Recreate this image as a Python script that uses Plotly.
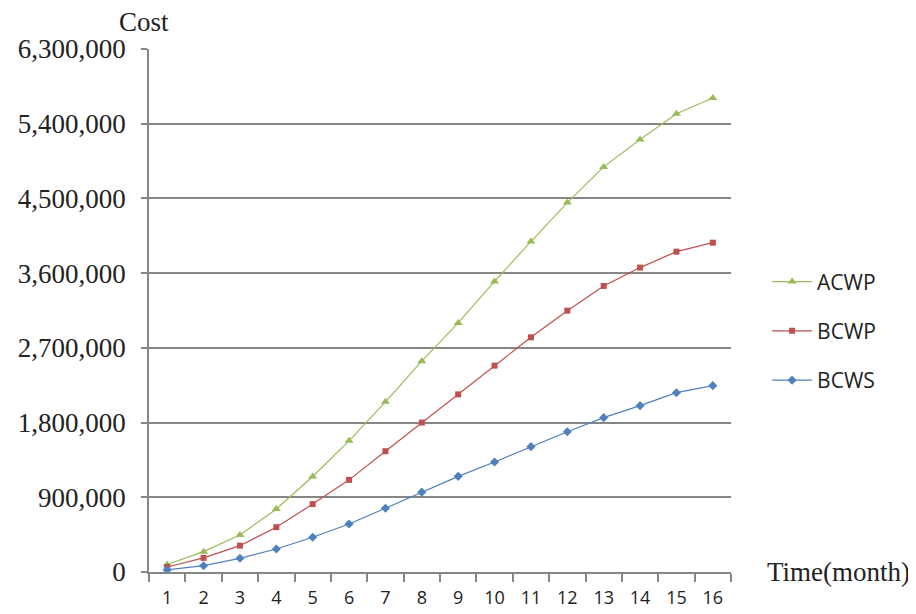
import plotly.graph_objects as go

months = [str(m) for m in range(1, 17)]
acwp = [90000, 245000, 446000, 760000, 1150000, 1580000, 2050000, 2540000,
        3000000, 3500000, 3980000, 4450000, 4880000, 5210000, 5520000, 5710000]
bcwp = [60000, 170000, 317000, 540000, 818000, 1110000, 1455000, 1800000,
        2140000, 2486000, 2827000, 3148000, 3446000, 3667000, 3859000, 3967000]
bcws = [25000, 76000, 165000, 277000, 418000, 578000, 768000, 962000,
        1152000, 1325000, 1510000, 1690000, 1859000, 2004000, 2160000, 2245000]
y_ticks = [0, 900000, 1800000, 2700000, 3600000, 4500000, 5400000, 6300000]

series = [
    ("ACWP", acwp, "#9BBB59", "triangle-up", 8),
    ("BCWP", bcwp, "#C0504D", "square", 6),
    ("BCWS", bcws, "#4F81BD", "diamond", 7),
]

fig = go.Figure()
for name, vals, color, sym, size in series:
    fig.add_trace(go.Scatter(
        x=months, y=vals, name=name, mode="lines+markers", legendgroup=name,
        line=dict(color=color, width=1.2),
        marker=dict(symbol=sym, size=size, color=color),
    ))

# page body has an 8px margin, so the figure is sized to fill the rest of the window
fig.update_layout(
    template="none",
    width=908, height=606,
    margin=dict(l=141, r=185, t=41, b=42, autoexpand=False),
    paper_bgcolor="white", plot_bgcolor="white",
    showlegend=True,
    legend=dict(x=1.062, y=0.461, xanchor="left", yanchor="middle",
                traceorder="grouped", tracegroupgap=19,
                font=dict(family="Open Sans, Liberation Sans, sans-serif", size=21, color="#222"),
                itemwidth=40, bgcolor="rgba(0,0,0,0)", borderwidth=0),
    font=dict(family="Liberation Serif, Times New Roman, serif", color="#222"),
)
fig.update_xaxes(
    type="category", range=[-0.5, 15.5], autorange=False,
    tickson="boundaries", ticks="outside", ticklen=8,
    tickcolor="#868686", tickwidth=1.5,
    showline=True, linecolor="#868686", linewidth=1.5,
    showgrid=False, zeroline=False, automargin=False,
    tickfont=dict(family="Open Sans, Liberation Sans, sans-serif", size=18, color="#222"),
    ticklabelstandoff=9,
)
fig.update_yaxes(
    range=[0, 6300000], autorange=False, tickvals=y_ticks, tickformat=",d",
    ticks="outside", ticklen=6, tickcolor="#868686", tickwidth=1.5,
    showline=True, linecolor="#868686", linewidth=1.5,
    showgrid=True, gridcolor="#868686", gridwidth=1.5, zeroline=False,
    automargin=False,
    tickfont=dict(family="Liberation Serif, Times New Roman, serif", size=27, color="#222"),
    ticklabelstandoff=10,
)
fig.add_annotation(text="Cost", xref="paper", yref="paper", x=-0.009, y=1.0,
                   xanchor="center", yanchor="middle", yshift=27, showarrow=False,
                   font=dict(family="Liberation Serif, Times New Roman, serif", size=27, color="#222"))
fig.add_annotation(text="Time(month)", xref="paper", yref="paper", x=1.184, y=0.0,
                   xanchor="center", yanchor="middle", showarrow=False,
                   font=dict(family="Liberation Serif, Times New Roman, serif", size=27, color="#222"))

fig.write_html("out.html")
